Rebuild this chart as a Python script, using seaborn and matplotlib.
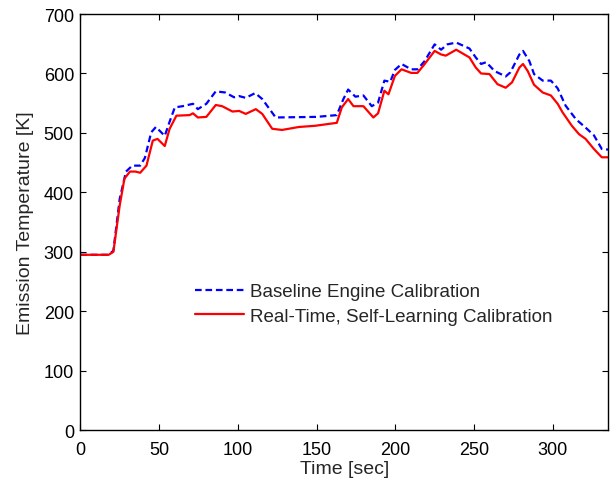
import matplotlib
matplotlib.use("Agg")
import matplotlib.pyplot as plt
import pandas as pd
import seaborn as sns

# Baseline engine calibration (blue dashed)
base_time = [0, 18, 21, 25, 29, 33, 38, 41, 45, 48,
             53.6, 56.7, 60, 65, 71.5, 74.6, 80, 86, 92, 97.6,
             100.8, 105, 111, 115.5, 124, 150, 162.8, 167, 170, 174.6,
             179.7, 185, 189, 193, 196.7, 199.7, 203.9, 210, 214, 218.6,
             224.9, 229, 233, 238.6, 247, 251, 254.4, 257.6, 263, 270,
             273, 278.7, 281, 285, 288, 293.5, 298.7, 303, 308, 314.6,
             320.7, 326, 331, 335]
base_temp = [295, 295, 302, 389, 435, 445, 445, 458, 501, 510,
             495, 519, 543, 545, 549, 540, 549, 570, 568, 560,
             562, 559, 567, 557, 526, 527, 530, 557, 573, 561,
             563, 545, 551, 588, 586, 606, 616, 607, 607, 621,
             649, 640, 649, 652, 642, 627, 616, 619, 604, 595,
             602, 632, 638, 621, 599, 588, 588, 575, 546, 523,
             509, 496, 473, 472]

# Real-time, self-learning calibration (red solid)
rt_time = [0, 18, 21, 25, 28, 31.5, 35, 38, 42, 46,
           49, 53.6, 56.7, 61, 69.4, 71.5, 74.6, 80, 86, 90,
           96.6, 100.8, 105, 111.4, 115.5, 121.8, 128, 138.7, 149, 162.8,
           166, 170, 173.4, 179.7, 186, 189, 193, 195.6, 199.7, 203.9,
           210, 214, 218.6, 224.9, 229, 232, 238.6, 247, 251, 254.4,
           259.7, 264.8, 270, 274, 278.7, 281, 284, 288, 293.5, 298.7,
           303, 306, 312, 316.5, 320.7, 326, 331, 335]
rt_temp = [295, 295, 300, 378, 423, 435, 435, 433, 445, 487,
           490, 478, 507, 529, 530, 533, 526, 527, 547, 545,
           536, 537, 532, 540, 532, 507, 505, 510, 512, 517,
           543, 557, 545, 545, 526, 533, 571, 565, 596, 607,
           601, 601, 616, 638, 632, 630, 640, 627, 610, 600,
           599, 582, 576, 585, 610, 616, 604, 581, 568, 563,
           549, 535, 512, 498, 490, 473, 459, 459]

base = pd.DataFrame({"time": base_time, "temp": base_temp})
rt = pd.DataFrame({"time": rt_time, "temp": rt_temp})

sns.set_style("ticks")
plt.rcParams["font.family"] = ["Liberation Sans", "DejaVu Sans"]
plt.rcParams["font.size"] = 13

fig = plt.figure(figsize=(6.13, 4.85), dpi=100)
ax = fig.add_axes([0.131, 0.111, 0.861, 0.858])

sns.lineplot(data=base, x="time", y="temp", ax=ax, color="#0000ff",
             linestyle=(0, (3, 1.7)), linewidth=1.6,
             label="Baseline Engine Calibration")
sns.lineplot(data=rt, x="time", y="temp", ax=ax, color="#ff0000",
             linewidth=1.6, label="Real-Time, Self-Learning Calibration")

ax.set_xlim(0, 335)
ax.set_ylim(0, 700)
ax.set_xticks(range(0, 301, 50))
ax.set_yticks(range(0, 701, 100))
ax.tick_params(direction="in", top=True, right=True, length=4.5,
               width=0.8, labelsize=13, colors="black")
ax.tick_params(axis="x", pad=7.5)
ax.tick_params(axis="y", pad=4.5)
for s in ax.spines.values():
    s.set_visible(True)
    s.set_linewidth(1.0)
    s.set_color("black")
ax.set_xlabel("Time [sec]", fontsize=14, labelpad=2)
ax.set_ylabel("Emission Temperature [K]", fontsize=14, labelpad=7)

ax.legend(loc="upper left", bbox_to_anchor=(0.185, 0.394), frameon=False,
          fontsize=13.5, handlelength=2.6, handletextpad=0.32,
          labelspacing=0.4, borderpad=0.4)

fig.savefig("out.png", dpi=100)
